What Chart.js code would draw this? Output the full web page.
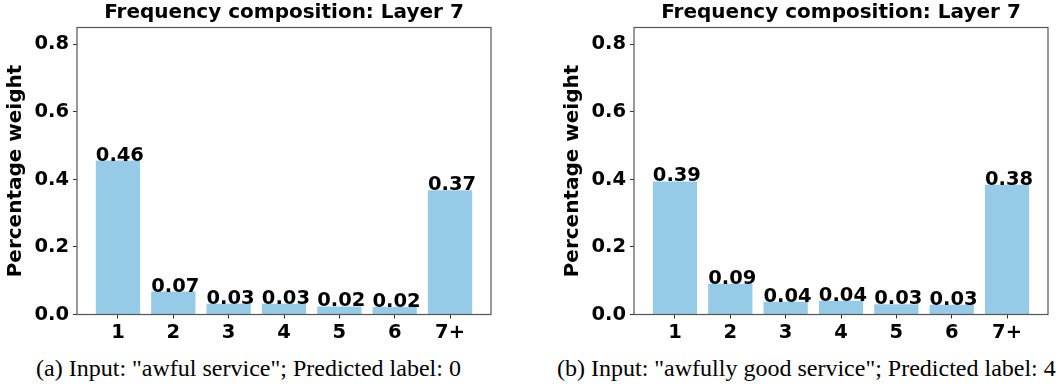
<!DOCTYPE html>
<html>
<head>
<meta charset="utf-8">
<script src="https://cdn.jsdelivr.net/npm/chart.js@4"></script>
<style>
  body { margin: 0; background: #fff; width: 1056px; height: 385px; position: relative; overflow: hidden; }
  .panel { position: absolute; top: 0; width: 497px; height: 385px; }
  .panel canvas { position: absolute; left: 0; top: 0; }
  .caption {
    position: absolute; left: 0; top: 354px; width: 497px; text-align: center;
    font-family: "Liberation Serif", "Times New Roman", serif; font-size: 24px; line-height: 28px; color: #000;
    white-space: nowrap;
  }
</style>
</head>
<body>
<div class="panel" style="left:0px">
  <canvas id="chartA" width="497" height="345"></canvas>
  <div class="caption">(a) Input: "awful service"; Predicted label: 0</div>
</div>
<div class="panel" style="left:557px">
  <canvas id="chartB" width="497" height="345"></canvas>
  <div class="caption">(b) Input: "awfully good service"; Predicted label: 4</div>
</div>
<script>
// data
const categories = ["1", "2", "3", "4", "5", "6", "7+"];
const weightsA = [0.456, 0.068, 0.032, 0.032, 0.024, 0.022, 0.368];
const weightsB = [0.394, 0.091, 0.038, 0.041, 0.030, 0.029, 0.384];
const yTicks = [0.0, 0.2, 0.4, 0.6, 0.8];
const titleText = "Frequency composition: Layer 7";
const yTitle = "Percentage weight";

const barColor = "#96cbe8";
const frameColor = "#555";
const boldFont = "'DejaVu Sans', sans-serif";

// frame on all four sides like matplotlib spines
const framePlugin = {
  id: "frame",
  afterDraw(chart) {
    const { ctx, chartArea: a } = chart;
    ctx.save();
    ctx.strokeStyle = frameColor;
    ctx.lineWidth = 1.2;
    ctx.strokeRect(a.left, a.top, a.right - a.left, a.bottom - a.top);
    ctx.restore();
  }
};

// value labels, left aligned on the bar's left edge, baseline at bar top
const valueLabels = {
  id: "valueLabels",
  afterDatasetsDraw(chart) {
    const { ctx } = chart;
    const meta = chart.getDatasetMeta(0);
    ctx.save();
    ctx.font = "bold 19.5px " + boldFont;
    ctx.fillStyle = "#000";
    ctx.textAlign = "left";
    ctx.textBaseline = "alphabetic";
    meta.data.forEach((bar, i) => {
      const v = chart.data.datasets[0].data[i].y;
      ctx.fillText(v.toFixed(2), bar.x - bar.width / 2, bar.y);
    });
    ctx.restore();
  }
};

function makeChart(id, values) {
  return new Chart(document.getElementById(id), {
    type: "bar",
    data: {
      datasets: [{
        data: values.map((v, i) => ({ x: i, y: v })),
        backgroundColor: barColor,
        borderWidth: 0,
        barPercentage: 0.8,
        categoryPercentage: 1.0
      }]
    },
    options: {
      responsive: false,
      animation: false,
      layout: { padding: { left: 0, right: 6, top: 0, bottom: 0 } },
      plugins: {
        legend: { display: false },
        tooltip: { enabled: false },
        title: {
          display: true,
          text: titleText,
          fullSize: false,
          color: "#000",
          font: { family: boldFont, size: 20, weight: "bold" },
          padding: { top: 1, bottom: 2.5 }
        }
      },
      scales: {
        x: {
          type: "linear",
          offset: false,
          min: -0.74,
          max: 6.74,
          afterFit(scale) { scale.height = 345 - 314.5; },
          afterBuildTicks(scale) { scale.ticks = categories.map((c, i) => ({ value: i })); },
          ticks: {
            callback: (v) => categories[v] ?? "",
            color: "#000",
            font: { family: boldFont, size: 19.5, weight: "bold" },
            padding: 3,
            maxRotation: 0,
            autoSkip: false
          },
          grid: { display: true, offset: false, drawOnChartArea: false, drawTicks: true, tickLength: 4, color: "#333" },
          border: { display: false }
        },
        y: {
          min: 0,
          max: 0.85,
          afterFit(scale) { scale.width = 77; },
          afterBuildTicks(scale) { scale.ticks = yTicks.map(v => ({ value: v })); },
          ticks: {
            callback: (v) => v.toFixed(1),
            color: "#000",
            font: { family: boldFont, size: 19.5, weight: "bold" },
            padding: 4
          },
          grid: { display: true, offset: false, drawOnChartArea: false, drawTicks: true, tickLength: 4, color: "#333" },
          border: { display: false },
          title: {
            display: true,
            text: yTitle,
            color: "#000",
            font: { family: boldFont, size: 20, weight: "bold" },
            padding: { top: 4, bottom: 0 }
          }
        }
      }
    },
    plugins: [framePlugin, valueLabels]
  });
}

makeChart("chartA", weightsA);
makeChart("chartB", weightsB);
</script>
</body>
</html>
